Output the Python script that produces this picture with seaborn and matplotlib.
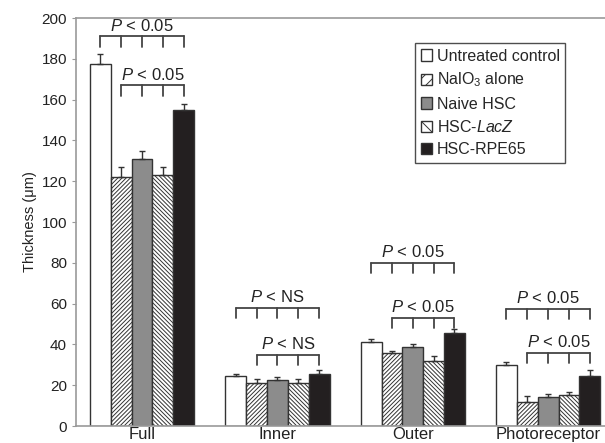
import numpy as np
import pandas as pd
import matplotlib
matplotlib.use('Agg')
import matplotlib.pyplot as plt
import seaborn as sns
from matplotlib.patches import Patch

layers = ['Full', 'Inner', 'Outer', 'Photoreceptor']
groups = ['Untreated control', 'NalO3 alone', 'Naive HSC', 'HSC-LacZ', 'HSC-RPE65']
legend_labels = ['Untreated control', 'NalO$_3$ alone', 'Naive HSC', 'HSC-$\\mathit{LacZ}$', 'HSC-RPE65']

untreated = [177.5, 24.5, 41.0, 30.0]
nalo3 = [122.0, 21.0, 36.0, 12.0]
naive = [131.0, 22.5, 38.5, 14.0]
lacz = [123.0, 21.0, 32.0, 15.0]
rpe65 = [155.0, 25.5, 45.5, 24.5]

untreated_err = [5.0, 1.0, 1.5, 1.5]
nalo3_err = [5.0, 2.0, 1.0, 2.5]
naive_err = [4.0, 1.5, 1.5, 1.5]
lacz_err = [4.0, 2.0, 2.5, 1.5]
rpe65_err = [3.0, 2.0, 2.0, 3.0]

# (layer index, first group index, bracket level, label)
brackets = [
    (0, 0, 191, '$P$ < 0.05'), (0, 1, 167, '$P$ < 0.05'),
    (1, 0, 58, '$P$ < NS'), (1, 1, 35, '$P$ < NS'),
    (2, 0, 80, '$P$ < 0.05'), (2, 1, 53, '$P$ < 0.05'),
    (3, 0, 57.5, '$P$ < 0.05'), (3, 1, 36, '$P$ < 0.05'),
]

values = [untreated, nalo3, naive, lacz, rpe65]
errors = [untreated_err, nalo3_err, naive_err, lacz_err, rpe65_err]
df = pd.DataFrame({
    'layer': np.tile(layers, len(groups)),
    'group': np.repeat(groups, len(layers)),
    'thickness': np.concatenate(values),
})

sns.set_style('white')
plt.rcParams['font.family'] = ['Liberation Sans', 'DejaVu Sans']
plt.rcParams['mathtext.fontset'] = 'custom'
plt.rcParams['mathtext.rm'] = 'Liberation Sans'
plt.rcParams['mathtext.it'] = 'Liberation Sans:italic'
plt.rcParams['hatch.linewidth'] = 0.7
plt.rcParams['hatch.color'] = '#333333'

colors = ['white', 'white', '#8c8c8c', 'white', '#231f20']
hatches = ['', '////////', '', '\\\\\\\\\\\\\\\\', '']

fig = plt.figure(figsize=(6.05, 4.43), dpi=100)
ax = fig.add_axes([76 / 605, 17 / 443, 1 - 76 / 605, (426 - 18) / 443])

sns.barplot(data=df, x='layer', y='thickness', hue='group', order=layers, hue_order=groups,
            palette=colors, width=0.77, errorbar=None, ax=ax, legend=False,
            edgecolor='#333333', linewidth=1.0, saturation=1)

centers = {}
for i, g in enumerate(groups):
    cont = ax.containers[i]
    xs = []
    for bar in cont:
        bar.set_hatch(hatches[i])
        xs.append(bar.get_x() + bar.get_width() / 2)
    centers[i] = xs
    ax.errorbar(xs, values[i], yerr=[np.zeros(len(layers)), errors[i]], fmt='none',
                ecolor='#333333', elinewidth=1.0, capsize=2.5, capthick=1.0)

for li, gi, lvl, lab in brackets:
    xs = [centers[k][li] for k in range(gi, len(groups))]
    ax.plot([xs[0], xs[-1]], [lvl, lvl], color='#444444', lw=1.3)
    for x in xs:
        ax.plot([x, x], [lvl, lvl - 5], color='#444444', lw=1.3)
    ax.text((xs[0] + xs[-1]) / 2, lvl + 1.3, lab, ha='center', va='bottom', fontsize=12, color='#222222')

ax.set_ylim(0, 200)
ax.set_xlim(-0.488, 3.42)
ax.set_yticks(range(0, 201, 20))
ax.tick_params(axis='y', labelsize=11, colors='#999999', labelcolor='#222222', length=3, width=0.8, left=True)
ax.tick_params(axis='x', labelsize=12, length=0, labelcolor='#222222', pad=1)
ax.set_xlabel('')
ax.set_ylabel('Thickness (μm)', fontsize=10.5, color='#222222', labelpad=3)
for s in ['left', 'bottom', 'top']:
    ax.spines[s].set_color('#999999')
    ax.spines[s].set_linewidth(1.2)
ax.spines['right'].set_visible(False)

handles = [Patch(facecolor=colors[i], edgecolor='#333333', hatch=hatches[i][:3], label=legend_labels[i])
           for i in range(len(groups))]
leg = ax.legend(handles=handles, loc='upper left', bbox_to_anchor=((415 - 76) / 529, (426 - 43) / 408),
                fontsize=11.5, frameon=True, fancybox=False, edgecolor='#222222',
                handlelength=0.7, handleheight=0.7, handletextpad=0.3, labelspacing=0.45,
                borderpad=0.35, borderaxespad=0)
leg.get_frame().set_linewidth(1.0)

fig.savefig('out.png', dpi=100)
